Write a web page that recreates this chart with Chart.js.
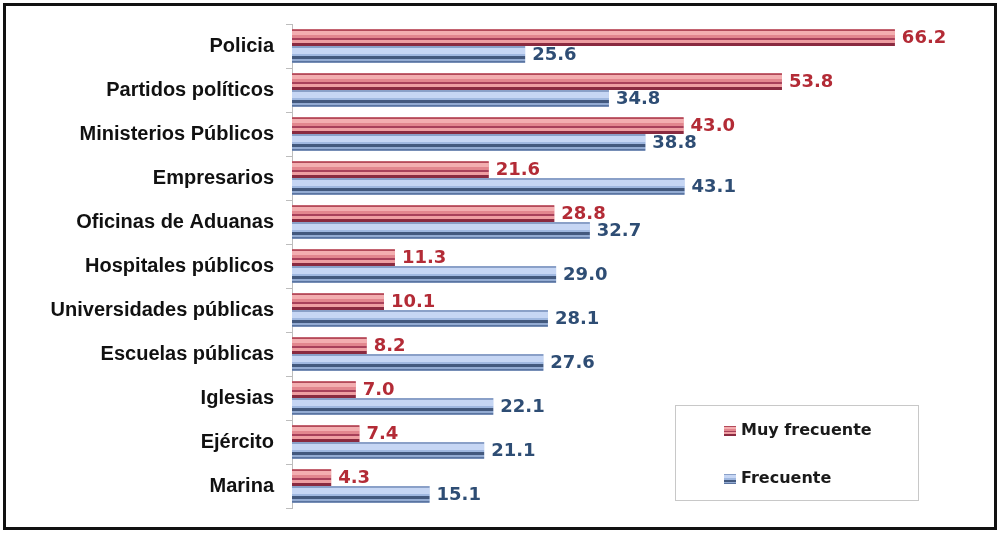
<!DOCTYPE html>
<html>
<head>
<meta charset="utf-8">
<script src="https://cdn.jsdelivr.net/npm/chart.js@4"></script>
<style>
  html, body { margin: 0; padding: 0; background: #fff; }
  #frame {
    position: absolute; left: 3px; top: 3px;
    width: 988px; height: 521px;
    border: 3px solid #111;
    background: #fff;
  }
  #chart { display: block; }
</style>
</head>
<body>
<div id="frame"><canvas id="chart" width="988" height="521"></canvas></div>
<script>
const categories = [
  'Policia', 'Partidos políticos', 'Ministerios Públicos', 'Empresarios',
  'Oficinas de Aduanas', 'Hospitales públicos', 'Universidades públicas',
  'Escuelas públicas', 'Iglesias', 'Ejército', 'Marina'
];
const muyFrecuente = [66.2, 53.8, 43.0, 21.6, 28.8, 11.3, 10.1, 8.2, 7.0, 7.4, 4.3];
const frecuente = [25.6, 34.8, 38.8, 43.1, 32.7, 29.0, 28.1, 27.6, 22.1, 21.1, 15.1];

// hard-edged bands to mimic the striped office-style fill
const stripes = {
  red: [[0, 0.08, '#b34a5a'], [0.08, 0.35, '#f3aeb0'], [0.35, 0.5, '#e2868e'],
        [0.5, 0.65, '#a8405a'], [0.65, 0.85, '#ee9ea2'], [0.85, 1, '#8a2a40']],
  blue: [[0, 0.1, '#8aa0c8'], [0.1, 0.45, '#c6d6f4'], [0.45, 0.6, '#a0b8e0'],
         [0.6, 0.78, '#43597e'], [0.78, 0.92, '#93abd2'], [0.92, 1, '#5a74a0']]
};
const labelColors = ['#b32b36', '#2e4d74'];

function stripeFill(ctx, key, top, h) {
  const g = ctx.createLinearGradient(0, top, 0, top + h);
  stripes[key].forEach(s => {
    g.addColorStop(s[0], s[2]);
    g.addColorStop(s[1], s[2]);
  });
  return g;
}

const barStyle = {
  id: 'barStyle',
  afterDatasetsDraw(chart) {
    const ctx = chart.ctx;
    chart.data.datasets.forEach((ds, i) => {
      const meta = chart.getDatasetMeta(i);
      meta.data.forEach((el, j) => {
        const p = el.getProps(['x', 'y', 'base', 'height'], true);
        const top = p.y - p.height / 2;
        const left = Math.min(p.base, p.x);
        ctx.save();
        ctx.fillStyle = stripeFill(ctx, ds.stripe, top, p.height);
        ctx.fillRect(left, top, Math.abs(p.x - p.base), p.height);
        ctx.font = 'bold 18px "DejaVu Sans"';
        ctx.fillStyle = labelColors[i];
        ctx.textBaseline = 'middle';
        ctx.textAlign = 'left';
        ctx.fillText(ds.data[j].toFixed(1), p.x + 7, p.y + 1);
        ctx.restore();
      });
    });
  }
};

const boxLegend = {
  id: 'boxLegend',
  afterDraw(chart) {
    const ctx = chart.ctx;
    const bx = 669, by = 399, bw = 243, bh = 95;
    ctx.save();
    ctx.fillStyle = '#fff';
    ctx.fillRect(bx, by, bw, bh);
    ctx.strokeStyle = '#c8c8c8';
    ctx.lineWidth = 1;
    ctx.strokeRect(bx + 0.5, by + 0.5, bw, bh);
    chart.data.datasets.forEach((ds, i) => {
      const cy = by + 26 + i * 48;
      ctx.fillStyle = stripeFill(ctx, ds.stripe, cy - 5, 10);
      ctx.fillRect(bx + 49, cy - 5, 12, 10);
      ctx.font = 'bold 16px "DejaVu Sans"';
      ctx.fillStyle = '#1a1a1a';
      ctx.textBaseline = 'middle';
      ctx.fillText(ds.label, bx + 66, cy);
    });
    ctx.restore();
  }
};

new Chart(document.getElementById('chart'), {
  type: 'bar',
  data: {
    labels: categories,
    datasets: [
      { label: 'Muy frecuente', data: muyFrecuente, stripe: 'red', backgroundColor: '#e98a8f',
        categoryPercentage: 0.76, barPercentage: 1.0 },
      { label: 'Frecuente', data: frecuente, stripe: 'blue', backgroundColor: '#a9c1ea',
        categoryPercentage: 0.76, barPercentage: 1.0 }
    ]
  },
  options: {
    indexAxis: 'y',
    responsive: false,
    animation: false,
    layout: { padding: { top: 18, bottom: 19, right: 19, left: 0 } },
    scales: {
      x: { display: false, min: 0, max: 75 },
      y: {
        afterFit: (scale) => {
          scale.width = 286;
          scale.paddingTop = 0;
          scale.paddingBottom = 0;
        },
        border: { display: true, color: '#bdbdbd' },
        grid: { display: true, drawOnChartArea: false, offset: true, tickLength: 6, color: '#bdbdbd' },
        ticks: {
          padding: 12,
          color: '#111',
          font: { family: '"Liberation Sans", Arial', size: 20, weight: 'bold' }
        }
      }
    },
    plugins: {
      legend: { display: false },
      tooltip: { enabled: false }
    }
  },
  plugins: [barStyle, boxLegend]
});
</script>
</body>
</html>
